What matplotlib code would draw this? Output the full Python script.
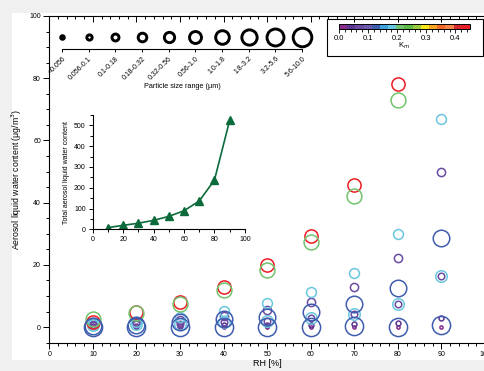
"""Aerosol liquid water content vs RH, by particle size bin."""
import matplotlib

matplotlib.use("Agg")
import matplotlib.pyplot as plt
from matplotlib.colors import ListedColormap, Normalize
from matplotlib.patches import Rectangle
from matplotlib.ticker import MultipleLocator

plt.rcParams["font.family"] = ["Liberation Sans", "DejaVu Sans"]

rh = [10, 20, 30, 40, 50, 60, 70, 80, 90]

size_bins = ["<0.056", "0.056-0.1", "0.1-0.18", "0.18-0.32", "0.32-0.56",
             "0.56-1.0", "1.0-1.8", "1.8-3.2", "3.2-5.6", "5.6-10.0"]

# hygroscopicity per size bin
km = [0.01, 0.05, 0.07, 0.07, 0.18, 0.18, 0.43, 0.21, 0.12, 0.12]

# water content per size bin (ug/m3), one value per RH step
alwc = [
    [0.0, 0.0, 0.0, 0.0, 0.1, 0.1, 0.1, 0.1, 0.1],
    [0.3, 0.4, 0.5, 0.6, 0.7, 0.8, 0.9, 1.3, 2.9],
    [0.6, 1.0, 1.0, 1.5, 2.0, 2.9, 4.3, 7.3, 16.3],
    [0.8, 1.4, 2.2, 3.5, 5.5, 8.2, 12.9, 22.1, 50.0],
    [1.0, 1.5, 3.4, 5.2, 7.6, 11.3, 17.3, 29.9, 67.0],
    [0.6, 1.0, 1.0, 1.5, 2.0, 2.9, 4.3, 7.3, 16.3],
    [1.8, 5.0, 8.1, 12.9, 19.9, 29.3, 45.6, 78.0, 180.0],
    [2.6, 4.7, 7.5, 12.0, 18.3, 27.4, 42.3, 72.9, 163.0],
    [0.3, 0.6, 1.7, 2.6, 3.3, 5.0, 7.5, 12.7, 28.5],
    [0.0, 0.0, 0.0, 0.1, 0.1, 0.2, 0.4, 0.2, 0.6],
]

total_alwc = [8, 19, 29, 43, 62, 89, 136, 237, 525]

km_colors = ["#8b2c8c", "#5b3592", "#6a4ba3", "#6e58ad", "#3f5dae", "#3da1dc",
             "#68c7df", "#72c36c", "#5bb947", "#9cc83c", "#f8e71c", "#f9a51f",
             "#f26a29", "#f58549", "#d7262d", "#ed1c24"]
cmap = ListedColormap(km_colors)
norm = Normalize(0, 0.45)


def _marker_size(idx):
    return 2.3 + 1.2 * idx


fig = plt.figure(figsize=(4.85, 3.71), dpi=100, facecolor="#f0f0f0")
fig.patches.append(Rectangle((12 / 485, 11 / 371), 473 / 485, 347 / 371,
                             transform=fig.transFigure, facecolor="white",
                             edgecolor="none", zorder=-5))

ax = fig.add_axes([0.1016, 0.0763, 0.8984, 0.8806])
ax.set_zorder(1)
ax.set_facecolor("none")
for idx, vals in enumerate(alwc):
    ax.plot(rh, vals, ls="none", marker="o", ms=_marker_size(idx),
            mfc="none", mec=cmap(norm(km[idx])), mew=1.1)

ax.set_xlim(0, 100)
ax.set_ylim(-5, 100)
ax.xaxis.set_major_locator(MultipleLocator(10))
ax.xaxis.set_minor_locator(MultipleLocator(2))
ax.yaxis.set_major_locator(MultipleLocator(20))
ax.yaxis.set_minor_locator(MultipleLocator(5))
ax.tick_params(which="both", direction="out", labelsize=5, width=0.7, pad=2)
ax.tick_params(which="major", length=4)
ax.tick_params(which="minor", length=2.5)
ax.tick_params(axis="x", which="both", top=True, labeltop=False)
ax.spines["right"].set_visible(False)
for s in ax.spines.values():
    s.set_linewidth(0.8)
ax.set_xlabel("RH [%]", fontsize=6.5, labelpad=1)
ax.set_ylabel("Aerosol liquid water content (μg/m$^{3}$)", fontsize=6.3,
              labelpad=4)
# top ticks point inward
for t in ax.xaxis.get_major_ticks() + ax.xaxis.get_minor_ticks():
    t.tick2line.set_marker(3)

# particle size legend
lax = fig.add_axes([0.1278, 0.868, 0.4948, 0.0647])
lax.set_zorder(2)
lax.set_facecolor("none")
for idx in range(len(size_bins)):
    lax.plot(idx, 0.5, marker="o", ms=_marker_size(idx) + 0.3, mfc="none",
             mec="black", mew=2.1, clip_on=False)
lax.set_xlim(0, len(size_bins) - 1)
lax.set_ylim(0, 1)
lax.set_yticks([])
lax.set_xticks(range(len(size_bins)))
lax.set_xticklabels(size_bins, rotation=45, ha="right", rotation_mode="anchor",
                    fontsize=5)
lax.tick_params(axis="x", length=2.5, width=0.7, pad=2)
for side in ["top", "left", "right"]:
    lax.spines[side].set_visible(False)
lax.spines["bottom"].set_linewidth(0.8)
lax.set_xlabel("Particle size range (μm)", fontsize=5.2, labelpad=1)

# K_m colour bar in a framed box
fig.patches.append(Rectangle((0.674, 0.849), 0.3216, 0.0997,
                             transform=fig.transFigure, facecolor="white",
                             edgecolor="black", lw=0.8, zorder=-1))
cax = fig.add_axes([0.699, 0.9218, 0.270, 0.0135])
cax.set_zorder(3)
cb = fig.colorbar(plt.cm.ScalarMappable(norm=norm, cmap=cmap), cax=cax,
                  orientation="horizontal")
cb.set_ticks([0.0, 0.1, 0.2, 0.3, 0.4])
cb.ax.xaxis.set_minor_locator(MultipleLocator(0.02))
cb.ax.tick_params(which="both", labelsize=5.5, width=0.6, pad=1.5)
cb.ax.tick_params(which="major", length=3)
cb.ax.tick_params(which="minor", length=1.8)
cb.outline.set_linewidth(0.7)
cb.set_label("K$_m$", fontsize=5.5, labelpad=-1)

# inset: total water content
iax = fig.add_axes([0.191, 0.382, 0.314, 0.308])
iax.set_zorder(2)
iax.set_facecolor("none")
iax.plot(rh, total_alwc, color="#0b6b3a", lw=1.2, marker="^", ms=6,
         mfc="#0b6b3a", mec="#0b6b3a")
iax.set_xlim(0, 100)
iax.set_ylim(0, 550)
iax.xaxis.set_major_locator(MultipleLocator(20))
iax.xaxis.set_minor_locator(MultipleLocator(10))
iax.yaxis.set_major_locator(MultipleLocator(100))
iax.yaxis.set_minor_locator(MultipleLocator(50))
iax.tick_params(which="both", direction="out", labelsize=5, width=0.7, pad=2)
iax.tick_params(which="major", length=3)
iax.tick_params(which="minor", length=2)
for side in ["top", "right"]:
    iax.spines[side].set_visible(False)
for side in ["left", "bottom"]:
    iax.spines[side].set_linewidth(0.8)
iax.set_ylabel("Total aerosol liquid water content", fontsize=5, labelpad=3)

fig.savefig("out.png", dpi=100, facecolor=fig.get_facecolor())
plt.close(fig)
